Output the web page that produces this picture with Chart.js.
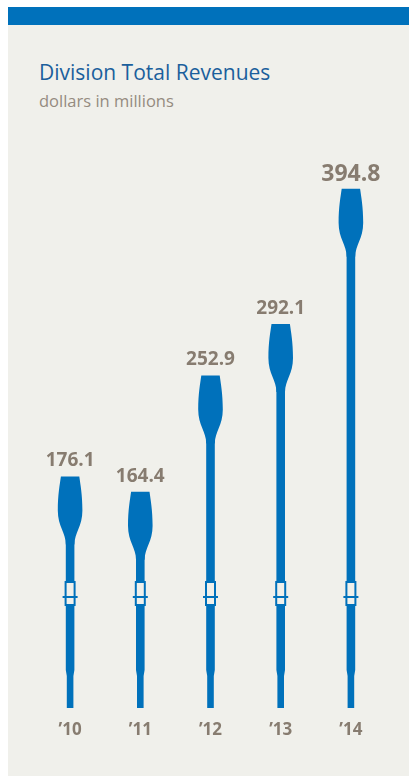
<!DOCTYPE html>
<html>
<head>
<meta charset="utf-8">
<script src="https://cdn.jsdelivr.net/npm/chart.js@4.4.1/dist/chart.umd.min.js"></script>
<style>
  html, body { margin: 0; padding: 0; background: #ffffff; }
  body { width: 409px; height: 776px; position: relative; overflow: hidden; }
  #band { position: absolute; left: 8px; top: 7px; width: 401px; height: 18px; background: #0071bb; }
  #panel { position: absolute; left: 8px; top: 25px; width: 401px; height: 751px; background: #f0f0eb; }
  #title { position: absolute; left: 39px; top: 58px; font-family: "Open Sans", sans-serif; font-size: 21px; color: #1b5f9c; white-space: nowrap; line-height: 28px; }
  #subtitle { position: absolute; left: 39px; top: 90px; font-family: "Open Sans", sans-serif; font-size: 16.5px; color: #958b80; white-space: nowrap; line-height: 22px; }
  #chart { position: absolute; left: 0; top: 0; }
</style>
</head>
<body>
<div id="band"></div>
<div id="panel"></div>
<div id="title">Division Total Revenues</div>
<div id="subtitle">dollars in millions</div>
<canvas id="chart" width="409" height="776"></canvas>
<script>
// ---- data ----
const categories = ["\u201910", "\u201911", "\u201912", "\u201913", "\u201914"];
const revenues = [176.1, 164.4, 252.9, 292.1, 394.8];
const valueLabels = ["176.1", "164.4", "252.9", "292.1", "394.8"];

const BLUE = "#0071bb";
const BG = "#f0f0eb";
const TEXT = "#877c70";

const oarPlugin = {
  id: "oars",
  afterDatasetsDraw(chart) {
    const ctx = chart.ctx;
    const meta = chart.getDatasetMeta(0);
    ctx.save();
    meta.data.forEach((el, i) => {
      const x = el.x, top = el.y, base = el.base;
      const sw = 4.3;   // shaft half width
      const hw = 3.3;   // handle half width
      const bw = 12.3;  // blade max half width
      const hStart = base - 38, hEnd = base - 32;
      ctx.fillStyle = BLUE;
      // shaft + handle
      ctx.beginPath();
      ctx.moveTo(x - sw, top + 60);
      ctx.lineTo(x + sw, top + 60);
      ctx.lineTo(x + sw, hStart);
      ctx.lineTo(x + hw, hEnd);
      ctx.lineTo(x + hw, base);
      ctx.lineTo(x - hw, base);
      ctx.lineTo(x - hw, hEnd);
      ctx.lineTo(x - sw, hStart);
      ctx.closePath();
      ctx.fill();
      // blade
      ctx.beginPath();
      ctx.moveTo(x - 9.2, top);
      ctx.lineTo(x + 9.2, top);
      ctx.bezierCurveTo(x + 10.3, top + 8, x + bw, top + 18, x + bw, top + 34);
      ctx.bezierCurveTo(x + bw, top + 50, x + sw, top + 56, x + sw, top + 68);
      ctx.lineTo(x - sw, top + 68);
      ctx.bezierCurveTo(x - sw, top + 56, x - bw, top + 50, x - bw, top + 34);
      ctx.bezierCurveTo(x - bw, top + 18, x - 10.3, top + 8, x - 9.2, top);
      ctx.closePath();
      ctx.fill();
      // collar
      const cTop = base - 127, cBot = base - 102;
      ctx.fillStyle = BG;
      ctx.fillRect(x - 5.5, cTop, 11, cBot - cTop);
      ctx.strokeStyle = BLUE;
      ctx.lineWidth = 2;
      ctx.strokeRect(x - 4.5, cTop + 1, 9, cBot - cTop - 2);
      ctx.fillStyle = BLUE;
      ctx.fillRect(x - 7.5, base - 112, 15, 2);
      // value label
      const big = i === revenues.length - 1;
      ctx.fillStyle = TEXT;
      ctx.font = "700 " + (big ? 23 : 19) + "px 'Open Sans', sans-serif";
      ctx.textAlign = "center";
      ctx.textBaseline = "alphabetic";
      ctx.fillText(valueLabels[i], x, top - (big ? 8 : 10));
    });
    ctx.restore();
  }
};

new Chart(document.getElementById("chart"), {
  type: "bar",
  data: {
    labels: categories,
    datasets: [{
      data: revenues,
      backgroundColor: "rgba(0,0,0,0)",
      borderWidth: 0,
      barThickness: 8.5
    }]
  },
  options: {
    responsive: false,
    animation: false,
    devicePixelRatio: 1,
    layout: { padding: { left: 35, right: 23, top: 182, bottom: 23.6 } },
    plugins: { legend: { display: false }, tooltip: { enabled: false }, title: { display: false } },
    scales: {
      y: { display: false, min: 0, max: 400 },
      x: {
        display: true,
        grid: { display: false, drawTicks: false },
        border: { display: false },
        ticks: { color: TEXT, font: { family: "'Open Sans', sans-serif", size: 17, weight: "700" }, padding: 12 }
      }
    }
  },
  plugins: [oarPlugin]
});
</script>
</body>
</html>
